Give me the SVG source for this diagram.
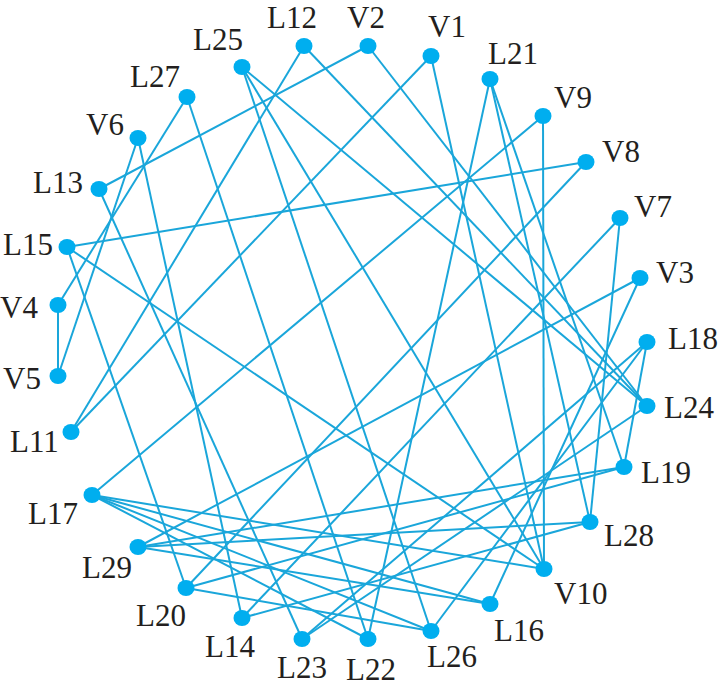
<svg xmlns="http://www.w3.org/2000/svg" width="722" height="693" viewBox="0 0 722 693">
<style>
.e line{stroke:#1aa6da;stroke-width:2;fill:none}
.n ellipse{fill:#00aeef}
.n text{font-family:"Liberation Serif","Times New Roman",serif;font-size:31px;fill:#231f20}
</style>
<rect width="722" height="693" fill="#fff"/>
<g id="edges" class="e">
<line x1="58" y1="305" x2="58" y2="376"/>
<line x1="58" y1="305" x2="187" y2="97"/>
<line x1="58" y1="376" x2="138" y2="138"/>
<line x1="138" y1="138" x2="242" y2="618"/>
<line x1="187" y1="97" x2="368" y2="639"/>
<line x1="99" y1="189" x2="368" y2="46"/>
<line x1="99" y1="189" x2="302" y2="639"/>
<line x1="304" y1="46" x2="71" y2="432"/>
<line x1="304" y1="46" x2="647" y2="406"/>
<line x1="368" y1="46" x2="647" y2="406"/>
<line x1="242" y1="67" x2="647" y2="406"/>
<line x1="242" y1="67" x2="544" y2="569"/>
<line x1="242" y1="67" x2="431" y2="631"/>
<line x1="431" y1="56" x2="71" y2="432"/>
<line x1="431" y1="56" x2="544" y2="569"/>
<line x1="490" y1="79" x2="368" y2="639"/>
<line x1="490" y1="79" x2="590" y2="522"/>
<line x1="490" y1="79" x2="624" y2="467"/>
<line x1="543" y1="116" x2="92" y2="495"/>
<line x1="543" y1="116" x2="544" y2="569"/>
<line x1="586" y1="162" x2="67" y2="247"/>
<line x1="586" y1="162" x2="186" y2="588"/>
<line x1="620" y1="218" x2="242" y2="618"/>
<line x1="620" y1="218" x2="590" y2="522"/>
<line x1="640" y1="278" x2="138" y2="547"/>
<line x1="640" y1="278" x2="490" y2="604"/>
<line x1="647" y1="342" x2="624" y2="467"/>
<line x1="647" y1="342" x2="431" y2="631"/>
<line x1="647" y1="342" x2="302" y2="639"/>
<line x1="647" y1="406" x2="302" y2="639"/>
<line x1="67" y1="247" x2="186" y2="588"/>
<line x1="67" y1="247" x2="544" y2="569"/>
<line x1="92" y1="495" x2="544" y2="569"/>
<line x1="92" y1="495" x2="490" y2="604"/>
<line x1="92" y1="495" x2="431" y2="631"/>
<line x1="92" y1="495" x2="368" y2="639"/>
<line x1="138" y1="547" x2="624" y2="467"/>
<line x1="138" y1="547" x2="590" y2="522"/>
<line x1="138" y1="547" x2="490" y2="604"/>
<line x1="186" y1="588" x2="624" y2="467"/>
<line x1="186" y1="588" x2="431" y2="631"/>
<line x1="242" y1="618" x2="590" y2="522"/>
</g>
<g class="n">
<g id="L12"><ellipse cx="304" cy="46" rx="8.5" ry="8"/><text x="267" y="28">L12</text></g>
<g id="V2"><ellipse cx="368" cy="46" rx="8.5" ry="8"/><text x="347" y="28">V2</text></g>
<g id="V1"><ellipse cx="431" cy="56" rx="8.5" ry="8"/><text x="428" y="37">V1</text></g>
<g id="L21"><ellipse cx="490" cy="79" rx="8.5" ry="8"/><text x="488" y="64">L21</text></g>
<g id="V9"><ellipse cx="543" cy="116" rx="8.5" ry="8"/><text x="554" y="108">V9</text></g>
<g id="V8"><ellipse cx="586" cy="162" rx="8.5" ry="8"/><text x="602" y="162">V8</text></g>
<g id="V7"><ellipse cx="620" cy="218" rx="8.5" ry="8"/><text x="634" y="217">V7</text></g>
<g id="V3"><ellipse cx="640" cy="278" rx="8.5" ry="8"/><text x="656" y="283">V3</text></g>
<g id="L18"><ellipse cx="647" cy="342" rx="8.5" ry="8"/><text x="668" y="349">L18</text></g>
<g id="L24"><ellipse cx="647" cy="406" rx="8.5" ry="8"/><text x="664" y="418">L24</text></g>
<g id="L19"><ellipse cx="624" cy="467" rx="8.5" ry="8"/><text x="641" y="483">L19</text></g>
<g id="L28"><ellipse cx="590" cy="522" rx="8.5" ry="8"/><text x="604" y="546">L28</text></g>
<g id="V10"><ellipse cx="544" cy="569" rx="8.5" ry="8"/><text x="554" y="604">V10</text></g>
<g id="L16"><ellipse cx="490" cy="604" rx="8.5" ry="8"/><text x="494" y="641">L16</text></g>
<g id="L26"><ellipse cx="431" cy="631" rx="8.5" ry="8"/><text x="427" y="667">L26</text></g>
<g id="L22"><ellipse cx="368" cy="639" rx="8.5" ry="8"/><text x="346" y="680">L22</text></g>
<g id="L23"><ellipse cx="302" cy="639" rx="8.5" ry="8"/><text x="277" y="678">L23</text></g>
<g id="L14"><ellipse cx="242" cy="618" rx="8.5" ry="8"/><text x="205" y="657">L14</text></g>
<g id="L20"><ellipse cx="186" cy="588" rx="8.5" ry="8"/><text x="136" y="626">L20</text></g>
<g id="L29"><ellipse cx="138" cy="547" rx="8.5" ry="8"/><text x="82" y="578">L29</text></g>
<g id="L17"><ellipse cx="92" cy="495" rx="8.5" ry="8"/><text x="28" y="524">L17</text></g>
<g id="L11"><ellipse cx="71" cy="432" rx="8.5" ry="8"/><text x="10" y="452">L11</text></g>
<g id="V5"><ellipse cx="58" cy="376" rx="8.5" ry="8"/><text x="3" y="389">V5</text></g>
<g id="V4"><ellipse cx="58" cy="305" rx="8.5" ry="8"/><text x="0" y="318">V4</text></g>
<g id="L15"><ellipse cx="67" cy="247" rx="8.5" ry="8"/><text x="3" y="255">L15</text></g>
<g id="L13"><ellipse cx="99" cy="189" rx="8.5" ry="8"/><text x="33" y="193">L13</text></g>
<g id="V6"><ellipse cx="138" cy="138" rx="8.5" ry="8"/><text x="86" y="135">V6</text></g>
<g id="L27"><ellipse cx="187" cy="97" rx="8.5" ry="8"/><text x="130" y="87">L27</text></g>
<g id="L25"><ellipse cx="242" cy="67" rx="8.5" ry="8"/><text x="193" y="50">L25</text></g>
</g>
</svg>
